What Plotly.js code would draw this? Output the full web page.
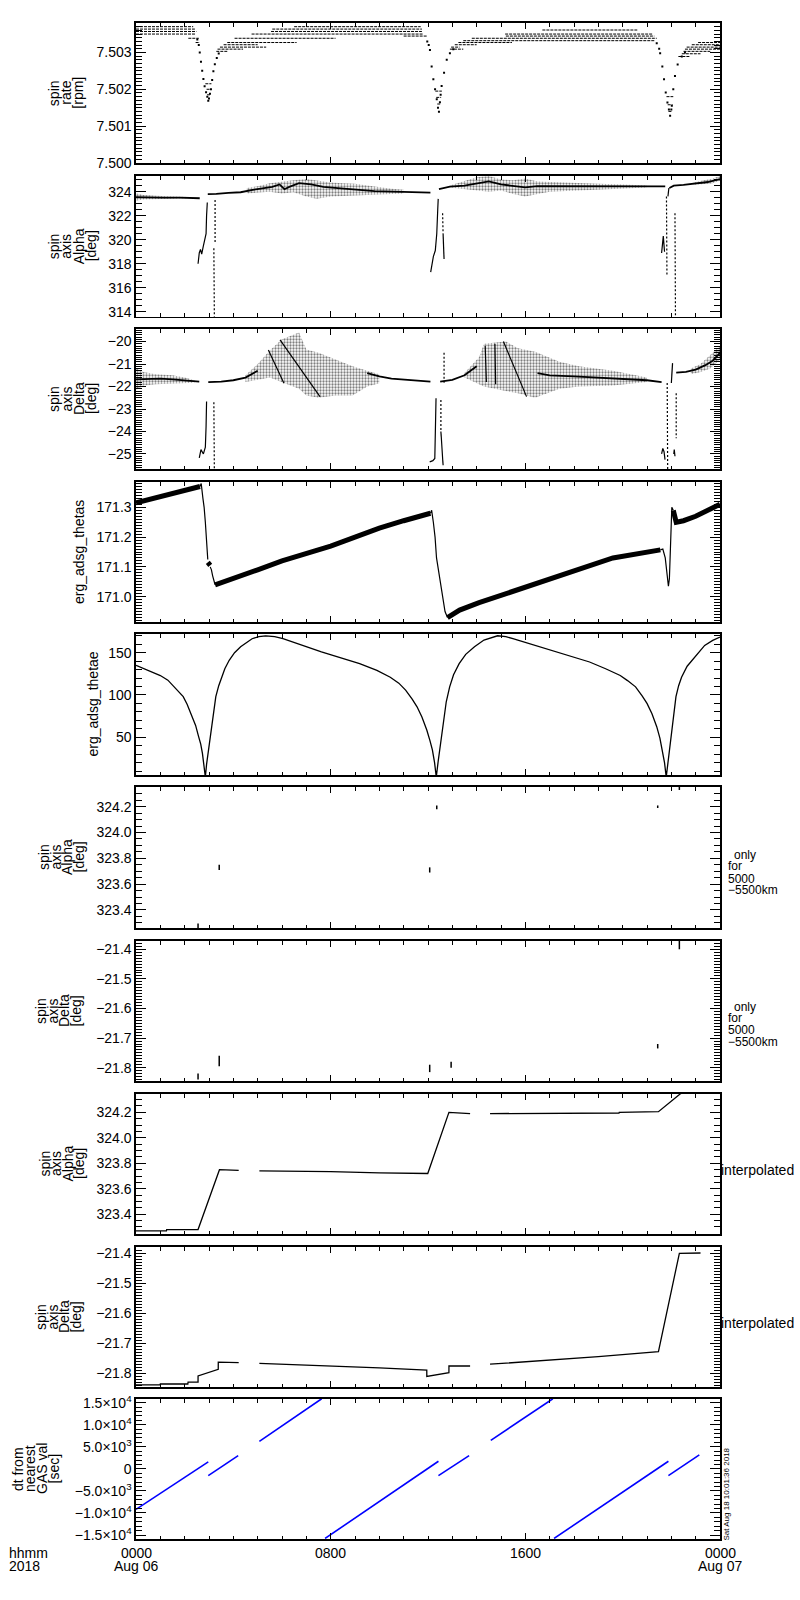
<!DOCTYPE html>
<html><head><meta charset="utf-8">
<script src="https://cdn.plot.ly/plotly-3.0.1.min.js"></script>
<style>body{margin:0;background:#fff}#chart{width:800px;height:1600px}</style>
</head><body><div id="chart"></div>
<script>
// ================= DATA (time in hours from 2018-08-06 00:00) =================
const xTickVals = [0, 8, 16, 24];
const xTickLabels = ['0000', '0800', '1600', '0000'];
const xTickDates = ['Aug 06', '', '', 'Aug 07'];

// Panel 1: spin rate [rpm] — quantized horizontal runs
const rateRunStart = [0,0,0,0,2.15,2.45, 3.3,3.35,3.45,3.6,3.75,4.05,4.75,5.55,5.6,6.5,11.0, 2.9,2.92,2.85,
  12.9,12.95,13.1,13.25,13.45,13.8,15.2,15.17,16.7, 12.38,12.34,12.3,
  22.29,22.43,22.5,22.56,22.63,22.84,23.1, 21.88,21.85,21.8];
const rateRunEnd = [2.35,2.42,2.48,2.45,2.58,2.62, 3.75,4.4,5.35,5.0,6.6,8.2,11.8,11.75,11.75,11.7,11.95, 3.06,3.04,3.1,
  13.45,13.3,14.0,15.45,21.33,21.4,21.3,21.25,20.6, 12.5,12.54,12.57,
  22.77,23.2,23.6,24,24,24,24, 22.02,22.05,22.08];
const rateRunLevel = [7.50370,7.503635,7.50357,7.50350,7.503385,7.50327, 7.50303,7.50309,7.503145,7.50321,7.50327,7.503385,7.50350,7.50357,7.503635,7.50370,7.503445, 7.50200,7.50185,7.50215,
  7.50309,7.503145,7.50321,7.50327,7.50332,7.503385,7.503445,7.50350,7.50361, 7.50160,7.50178,7.50195,
  7.50289,7.502965,7.50303,7.50309,7.503145,7.50321,7.50327, 7.50140,7.50158,7.50180];
const rateDipT = [2.52,2.58,2.62,2.67,2.72,2.77,2.82,2.88,2.93,2.97,3.0,3.04,3.08,3.13,3.18,3.24,3.32,3.4,
  11.97,12.03,12.08,12.15,12.22,12.29,12.36,12.41,12.45,12.49,12.52,12.56,12.66,12.77,12.9,13.04,
  21.4,21.5,21.54,21.63,21.7,21.77,21.84,21.9,21.95,22.0,22.02,22.08,22.15,22.26,22.43,22.56];
const rateDipV = [7.50335,7.5032,7.5030,7.50275,7.5025,7.50228,7.50208,7.50192,7.5018,7.50169,7.50175,7.50188,7.5020,7.50225,7.50249,7.50268,7.50285,7.50297,
  7.5033,7.5032,7.50307,7.50262,7.50227,7.5020,7.50173,7.5015,7.50139,7.50165,7.50185,7.50209,7.50245,7.5028,7.50298,7.50309,
  7.50325,7.5031,7.50298,7.50262,7.50227,7.50191,7.50164,7.50145,7.50128,7.50145,7.50155,7.5020,7.50236,7.50267,7.50289,7.5030];
const rateTicks = [7.500, 7.501, 7.502, 7.503];
const rateTickLabels = ['7.500', '7.501', '7.502', '7.503'];

// Panel 2: spin axis Alpha [deg]
const alphaCoreT = [0,0.6,1.2,1.8,2.4,2.62,null,2.95,3.3,3.8,4.3,4.8,5.2,5.6,5.9,6.1,6.3,6.7,7.2,7.7,8.3,9.0,9.8,10.6,11.4,12.1,null,
  12.45,12.9,13.5,14.0,14.5,15.0,15.5,16.0,16.5,17.5,18.5,19.5,20.5,21.4,21.75,null,21.92,22.1,22.5,23.0,23.5,24];
const alphaCoreV = [323.55,323.5,323.5,323.5,323.48,323.45,null,323.8,323.81,323.9,323.95,324.15,324.3,324.4,324.6,324.2,324.4,324.7,324.6,324.4,324.3,324.2,324.05,324.0,323.95,323.92,null,
  324.2,324.42,324.5,324.7,324.85,324.6,324.5,324.35,324.45,324.45,324.42,324.4,324.4,324.44,324.44,null,324.3,324.5,324.56,324.65,324.8,325.05];
const alphaCloudT = [0,0.3,0.8,1.5,2.1,null,4.55,5.0,5.5,6.0,6.47,7.0,7.42,8.0,8.5,9.0,9.5,10.0,10.5,11.0,null,
  12.9,13.5,14.0,14.5,15.0,15.5,16.0,16.5,17.0,18.0,19.0,20.0,21.0,null,22.9,23.3,23.7,24];
const alphaCloudHi = [323.86,323.72,323.65,323.6,323.55,null,324.3,324.45,324.7,324.85,324.95,325.05,324.9,324.75,324.7,324.65,324.5,324.35,324.25,324.15,null,
  324.5,324.9,325.2,325.3,325.0,324.95,325.1,324.85,324.8,324.7,324.65,324.6,324.5,null,324.75,324.9,325.1,325.3];
const alphaCloudLo = [323.25,323.35,323.4,323.42,323.44,null,323.85,323.9,324.0,323.85,323.95,323.6,323.4,323.6,323.65,323.65,323.7,323.75,323.8,323.85,null,
  324.35,324.2,324.1,324.0,324.1,323.8,323.6,323.8,324.0,324.1,324.2,324.25,324.35,null,324.55,324.6,324.7,324.9];
const alphaPerigeeT = [2.55,2.6,2.65,2.7,2.76,2.88,2.9,2.93,null,12.11,12.22,12.3,12.36,12.4,12.42,null,12.62,12.64,12.66,null,21.6,21.64,21.67,21.72,null,21.86,21.9];
const alphaPerigeeV = [318.0,318.9,319.2,318.8,319.4,320.5,322.0,323.1,null,317.3,318.6,319.1,320.5,322.5,323.4,null,320.5,319.3,318.4,null,318.9,320.25,320.3,319.0,null,323.6,324.3];
const alphaDotT = [3.2,3.22,null,3.25,3.25,null,12.6,12.62,null,21.8,21.82,null,22.15,22.17];
const alphaDotV = [319.3,313.5,null,323.3,319.8,null,322.2,320.5,null,323.6,317.0,null,322.2,313.5];
const alphaTicks = [314, 316, 318, 320, 322, 324];

// Panel 3: spin axis Delta [deg]
const deltaCoreT = [0,0.5,1.0,1.5,2.0,2.6,null,2.97,3.5,4.0,4.5,5.0,null,9.5,10,10.5,11,11.5,12.1,null,
  12.5,13.0,13.5,14.0,null,16.5,17,18,19,20,21,21.6,null,22.2,22.6,23,23.4,23.7,24];
const deltaCoreV = [-21.68,-21.65,-21.65,-21.68,-21.72,-21.78,null,-21.8,-21.78,-21.72,-21.6,-21.3,null,-21.4,-21.55,-21.65,-21.7,-21.75,-21.78,null,
  -21.78,-21.7,-21.5,-21.1,null,-21.4,-21.5,-21.55,-21.6,-21.65,-21.72,-21.8,null,-21.38,-21.35,-21.25,-21.05,-20.85,-20.5];
const deltaCloudT = [0,0.3,0.8,1.5,2.0,2.4,null,4.5,5.0,5.5,6.0,6.7,7.0,7.5,8.2,8.9,9.5,10.0,null,
  13.5,14.1,14.3,15.2,15.7,16.4,17.4,18.2,19.6,21.0,null,22.8,23.2,23.6,24];
const deltaCloudHi = [-21.2,-21.35,-21.45,-21.5,-21.6,-21.72,null,-21.5,-21.0,-20.4,-19.9,-19.6,-20.35,-20.5,-20.8,-21.1,-21.3,-21.45,null,
  -21.4,-20.7,-20.1,-20.0,-20.3,-20.45,-20.9,-21.1,-21.3,-21.6,null,-21.2,-21.0,-20.6,-20.2];
const deltaCloudLo = [-22.15,-21.95,-21.9,-21.85,-21.85,-21.83,null,-21.8,-21.7,-21.6,-21.8,-22.1,-22.4,-22.5,-22.4,-22.4,-22.0,-21.85,null,
  -21.6,-21.9,-22.0,-22.2,-22.3,-22.5,-22.1,-22.0,-21.95,-21.8,null,-21.45,-21.35,-21.2,-20.8];
const deltaStreakT = [5.44,6.08,null,5.92,7.56,null,15.1,16.05,null,14.35,14.4,null,14.75,14.78];
const deltaStreakV = [-20.37,-21.85,null,-19.92,-22.45,null,-20.0,-22.45,null,-20.2,-21.8,null,-20.1,-21.9];
const deltaPerigeeT = [2.6,2.67,2.77,2.85,2.88,2.9,null,12.07,12.2,12.28,12.3,12.33,null,12.53,12.58,12.62,null,21.6,21.65,21.7,21.74,null,22.0,22.03,22.05,null,22.1,22.12,22.15];
const deltaPerigeeV = [-25.18,-24.81,-25.0,-24.7,-23.78,-22.67,null,-25.35,-25.3,-25.2,-23.5,-22.52,null,-24.0,-25.0,-25.5,null,-25.0,-24.75,-24.9,-25.25,null,-21.84,-21.5,-20.96,null,-25.0,-24.8,-25.1];
const deltaDotT = [3.2,3.22,null,12.53,12.53,null,12.66,12.66,null,21.83,21.85,null,22.2,22.2];
const deltaDotV = [-22.7,-25.8,null,-22.6,-24.0,null,-20.5,-21.9,null,-21.84,-25.8,null,-22.3,-24.3];
const deltaTicks = [-25, -24, -23, -22, -21, -20];

// Panel 4: erg_adsg_thetas
const thetasBandT = [0,0.5,1.0,1.5,2.0,2.5,2.63,null,2.95,3.05,null,3.25,4,5,6,7,8,9,10,11,12.1,null,
  12.8,13.3,14.1,15,16,17,18.2,19.6,21.55,null,22.08,22.2,22.5,23.0,23.5,24];
const thetasBandV = [171.315,171.325,171.335,171.345,171.355,171.365,171.37,null,171.115,171.105,null,171.04,171.06,171.09,171.12,171.145,171.17,171.2,171.23,171.255,171.28,null,
  170.93,170.955,170.98,171.005,171.034,171.06,171.095,171.13,171.157,null,171.29,171.25,171.255,171.27,171.29,171.31];
const thetasDropT = [2.63,2.68,2.75,2.8,2.85,2.9,2.95,null,3.05,3.1,3.15,3.25,null,12.1,12.15,12.22,12.29,12.35,12.45,12.5,12.6,12.7,12.8,null,
  21.55,21.65,21.75,21.8,21.85,21.88,21.92,21.95,21.98,22.02,22.08];
const thetasDropV = [171.37,171.38,171.33,171.3,171.25,171.18,171.125,null,171.1,171.09,171.07,171.04,null,171.28,171.29,171.25,171.2,171.13,171.08,171.05,171.0,170.95,170.93,null,
  171.157,171.16,171.13,171.1,171.06,171.035,171.06,171.15,171.25,171.3,171.29];
const thetasTicks = [171.0, 171.1, 171.2, 171.3];
const thetasTickLabels = ['171.0', '171.1', '171.2', '171.3'];

// Panel 5: erg_adsg_thetae
const thetaeT = [0,0.68,1.0,1.31,1.6,1.94,2.1,2.33,2.45,2.57,2.66,2.73,2.8,2.85,2.9,2.96,3.04,3.12,3.2,3.28,3.4,3.52,3.65,3.83,4.05,4.3,4.55,4.77,5.05,5.33,5.7,6.04,7.62,9.19,9.9,10.45,10.8,
  11.08,11.35,11.55,11.75,11.95,12.08,12.18,12.27,12.34,12.42,12.5,12.65,12.75,12.89,13.05,13.28,13.55,13.91,14.3,14.86,15.2,15.49,17.06,18.64,19.3,19.9,20.2,
  20.53,20.8,21.0,21.2,21.4,21.53,21.63,21.72,21.79,21.87,21.95,22.05,22.19,22.3,22.42,22.65,22.9,23.15,23.37,23.7,24];
const thetaeV = [135,127,123,117.5,109,98,89,74,64,51,42,31,18,3,18,31,52,70,85,98,111,121,131,141,150,157,162.5,166.5,169,170,169,166.5,151,137,129,121,114,
  105.7,95,86,74,58.6,46,35,20,3,22,39,74,92,109.6,124,137,148,157,165,170,169,166.5,152.7,139,131,123,117,
  109.6,99,90,78,62.5,49,35,20,3,22,39,65,98,111,121,134,143,152,158.6,164.5,168.4];
const thetaeTicks = [50, 100, 150];

// Panels 6/7: values only for 5000-5500 km (short marks: time, low, high)
const alpha55T = [2.55, 3.42, 12.07, 12.36, 21.44, 22.33];
const alpha55Lo = [323.26, 323.71, 323.69, 324.18, 324.19, 324.33];
const alpha55Hi = [323.295, 323.75, 323.73, 324.21, 324.21, 324.36];
const delta55T = [2.55, 3.42, 12.07, 12.95, 21.44, 22.33];
const delta55Lo = [-21.84, -21.795, -21.815, -21.8, -21.735, -21.4];
const delta55Hi = [-21.82, -21.76, -21.79, -21.78, -21.72, -21.37];
const alphaFineTicks = [323.4, 323.6, 323.8, 324.0, 324.2];
const alphaFineTickLabels = ['323.4', '323.6', '323.8', '324.0', '324.2'];
const deltaFineTicks = [-21.8, -21.7, -21.6, -21.5, -21.4];
const deltaFineTickLabels = ['\u221221.8', '\u221221.7', '\u221221.6', '\u221221.5', '\u221221.4'];

// Panels 8/9: interpolated
const interpAlphaT = [0,1.25,1.26,2.55,3.43,4.22,null,5.07,8.0,10.0,11.99,12.86,13.73,null,14.55,16.9,16.91,19.85,19.86,21.47,22.36,22.6];
const interpAlphaV = [323.27,323.27,323.28,323.28,323.75,323.745,null,323.74,323.735,323.725,323.72,324.2,324.19,null,324.19,324.19,324.195,324.195,324.2,324.205,324.344,324.37];
const interpDeltaT = [0,0.99,1.0,2.13,2.14,2.55,2.551,3.38,3.381,4.22,null,5.07,8,10,11.95,11.951,12.86,12.861,13.73,null,14.55,17,19,21.47,22.33,23.2];
const interpDeltaV = [-21.839,-21.839,-21.836,-21.836,-21.83,-21.83,-21.809,-21.787,-21.763,-21.765,null,-21.767,-21.775,-21.782,-21.79,-21.811,-21.798,-21.776,-21.776,null,-21.77,-21.757,-21.745,-21.728,-21.4,-21.399];

// Panel 10: dt from nearest GAS val [sec] — straight segments
const dtSegT0 = [0, 2.97, 5.07, 7.77, 12.43, 14.58, 17.18, 21.88];
const dtSegT1 = [2.97, 4.2, 7.63, 12.43, 13.69, 17.13, 21.88, 23.15];
const dtSegV0 = [-9200, -1520, 6250, -15770, -1520, 6470, -15770, -1520];
const dtSegV1 = [1580, 3000, 15900, 1720, 3000, 15900, 1720, 3170];
const dtTicks = [-15000, -10000, -5000, 0, 5000, 10000, 15000];
const dtTickLabels = ['\u22121.5\u00d710<sup>4</sup>', '\u22121.0\u00d710<sup>4</sup>', '\u22125.0\u00d710<sup>3</sup>', '0',
  '5.0\u00d710<sup>3</sup>', '1.0\u00d710<sup>4</sup>', '1.5\u00d710<sup>4</sup>'];

// ================= LAYOUT HELPERS =================
const W = 800, H = 1600;
const FONT = 'Liberation Sans, Arial, sans-serif';
const panelTop = [23, 176, 329, 482, 634, 787, 941, 1094, 1247, 1399];
const panelBot = [163.3, 316.7, 469, 622, 775, 928, 1081, 1234, 1387, 1539];
const plotLeft = 136, plotRight = 720;
const px = x => x / W, py = y => 1 - y / H;
const aid = k => (k === 1 ? '' : String(k));

function tr(k, x, y, o) {
  o = o || {};
  const t = {type: 'scatter', mode: o.mode || 'lines', x: x, y: y,
    xaxis: 'x' + aid(k), yaxis: 'y' + aid(k), hoverinfo: 'skip', showlegend: false, connectgaps: false,
    line: {color: o.color || '#000', width: o.width === undefined ? 1 : o.width, dash: o.dash || 'solid'}};
  if (o.marker) t.marker = o.marker;
  if (o.fill) { t.fill = o.fill; t.fillcolor = 'rgba(0,0,0,0)'; t.fillpattern = o.fillpattern; }
  return t;
}
function runsXY(s, e, v) { const x = [], y = []; for (let i = 0; i < s.length; i++) { x.push(s[i], e[i], null); y.push(v[i], v[i], null); } return {x, y}; }
function marksXY(t, lo, hi) { const x = [], y = []; for (let i = 0; i < t.length; i++) { x.push(t[i], t[i], null); y.push(lo[i], hi[i], null); } return {x, y}; }
function cloudXY(T, Hi, Lo) {
  const x = [], y = []; let seg = [];
  const flush = () => { if (seg.length) { seg.forEach(i => { x.push(T[i]); y.push(Hi[i]); }); seg.slice().reverse().forEach(i => { x.push(T[i]); y.push(Lo[i]); }); x.push(null); y.push(null); } seg = []; };
  for (let i = 0; i < T.length; i++) { if (T[i] === null) flush(); else seg.push(i); }
  flush(); return {x, y};
}
const dotPattern = {shape: '.', fgcolor: '#000', bgcolor: 'rgba(0,0,0,0)', size: 3, solidity: 0.45, fillmode: 'overlay'};

const traces = [];
// Panel 1
const rr = runsXY(rateRunStart, rateRunEnd, rateRunLevel);
traces.push(tr(1, rr.x, rr.y, {width: 1, dash: '3px,1px'}));
traces.push(tr(1, rateDipT, rateDipV, {mode: 'markers', marker: {color: '#000', size: 2, symbol: 'square'}}));
// Panel 2
const ac = cloudXY(alphaCloudT, alphaCloudHi, alphaCloudLo);
traces.push(tr(2, ac.x, ac.y, {fill: 'toself', width: 0, fillpattern: dotPattern}));
traces.push(tr(2, alphaCoreT, alphaCoreV, {width: 1.8}));
traces.push(tr(2, alphaPerigeeT, alphaPerigeeV, {width: 1.2}));
traces.push(tr(2, alphaDotT, alphaDotV, {width: 1.2, dash: '2px,2px'}));
// Panel 3
const dc = cloudXY(deltaCloudT, deltaCloudHi, deltaCloudLo);
traces.push(tr(3, dc.x, dc.y, {fill: 'toself', width: 0, fillpattern: dotPattern}));
traces.push(tr(3, deltaCoreT, deltaCoreV, {width: 1.8}));
traces.push(tr(3, deltaStreakT, deltaStreakV, {width: 1.2}));
traces.push(tr(3, deltaPerigeeT, deltaPerigeeV, {width: 1.2}));
traces.push(tr(3, deltaDotT, deltaDotV, {width: 1.2, dash: '2px,2px'}));
// Panel 4
traces.push(tr(4, thetasBandT, thetasBandV, {width: 5}));
traces.push(tr(4, thetasDropT, thetasDropV, {width: 1.2}));
// Panel 5
traces.push(tr(5, thetaeT, thetaeV, {width: 1.3}));
// Panels 6/7
const m6 = marksXY(alpha55T, alpha55Lo, alpha55Hi);
traces.push(tr(6, m6.x, m6.y, {width: 1.5}));
const m7 = marksXY(delta55T, delta55Lo, delta55Hi);
traces.push(tr(7, m7.x, m7.y, {width: 1.5}));
// Panels 8/9
traces.push(tr(8, interpAlphaT, interpAlphaV, {width: 1.3}));
traces.push(tr(9, interpDeltaT, interpDeltaV, {width: 1.3}));
// Panel 10
const dx = [], dy = [];
for (let i = 0; i < dtSegT0.length; i++) { dx.push(dtSegT0[i], dtSegT1[i], null); dy.push(dtSegV0[i], dtSegV1[i], null); }
traces.push(tr(10, dx, dy, {width: 1.6, color: '#0000ff'}));

// ================= AXES =================
const yCfg = [
  {range: [7.49999, 7.5038], tv: rateTicks, tt: rateTickLabels, minor: 0.0001, t0: 7.5},
  {range: [313.6, 325.3], tv: alphaTicks, tt: alphaTicks.map(String), minor: 0.5, t0: 314},
  {range: [-25.67, -19.44], tv: deltaTicks, tt: deltaTicks.map(v => '\u2212' + Math.abs(v)), minor: 0.1, t0: -25},
  {range: [170.915, 171.385], tv: thetasTicks, tt: thetasTickLabels, minor: 0.01, t0: 171},
  {range: [5.4, 172.1], tv: thetaeTicks, tt: thetaeTicks.map(String), minor: 10, t0: 0},
  {range: [323.26, 324.353], tv: alphaFineTicks, tt: alphaFineTickLabels, minor: 0.05, t0: 323.4},
  {range: [-21.845, -21.372], tv: deltaFineTicks, tt: deltaFineTickLabels, minor: 0.01, t0: -21.8},
  {range: [323.245, 324.344], tv: alphaFineTicks, tt: alphaFineTickLabels, minor: 0.05, t0: 323.4},
  {range: [-21.846, -21.379], tv: deltaFineTicks, tt: deltaFineTickLabels, minor: 0.01, t0: -21.8},
  {range: [-15900, 15840], tv: dtTicks, tt: dtTickLabels, minor: 1000, t0: 0}
];

const layout = {
  width: W, height: H, autosize: false, margin: {l: 0, r: 0, t: 0, b: 0},
  paper_bgcolor: '#fff', plot_bgcolor: '#fff', showlegend: false,
  font: {family: FONT, size: 14, color: '#000'}, annotations: []
};
for (let k = 1; k <= 10; k++) {
  const c = yCfg[k - 1];
  layout['xaxis' + aid(k)] = {
    domain: [px(plotLeft), px(plotRight)], range: [0, 24], anchor: 'y' + aid(k),
    tickmode: 'array', tickvals: xTickVals, showticklabels: false,
    ticks: 'inside', ticklen: 6, tickwidth: 1, tickcolor: '#000',
    minor: {tickmode: 'linear', tick0: 0, dtick: 1, ticks: 'inside', ticklen: 3.5, tickwidth: 1, tickcolor: '#000', showgrid: false},
    mirror: 'allticks', showline: true, linecolor: '#000', linewidth: 1.6,
    showgrid: false, zeroline: false, fixedrange: true
  };
  layout['yaxis' + aid(k)] = {
    domain: [py(panelBot[k - 1]), py(panelTop[k - 1])], range: c.range, anchor: 'x' + aid(k),
    tickmode: 'array', tickvals: c.tv, ticktext: c.tt, tickfont: {family: FONT, size: 14, color: '#000'},
    ticks: 'inside', ticklen: 10, tickwidth: 1, tickcolor: '#000',
    minor: {tickmode: 'linear', tick0: c.t0, dtick: c.minor, ticks: 'inside', ticklen: 6, tickwidth: 1, tickcolor: '#000', showgrid: false},
    mirror: 'allticks', showline: true, linecolor: '#000', linewidth: 1.6,
    showgrid: false, zeroline: false, fixedrange: true
  };
}

// ================= TEXT =================
function ann(text, x, y, o) {
  o = o || {};
  layout.annotations.push({text: text, xref: 'paper', yref: 'paper', x: px(x), y: py(y),
    xanchor: o.xa || 'center', yanchor: o.ya || 'middle', showarrow: false, textangle: o.angle || 0,
    font: {family: FONT, size: o.size || 14, color: '#000'}, borderpad: 0});
}
const titleLines = [
  [['spin', 54], ['rate', 66.5], ['[rpm]', 78.5]],
  [['spin', 54], ['axis', 66.5], ['Alpha', 79], ['[deg]', 91]],
  [['spin', 54], ['axis', 66.5], ['Delta', 79], ['[deg]', 91]],
  [['erg_adsg_thetas', 79]],
  [['erg_adsg_thetae', 92]],
  [['spin', 44.5], ['axis', 56], ['Alpha', 67.5], ['[deg]', 79]],
  [['spin', 41], ['axis', 52.5], ['Delta', 64], ['[deg]', 75.5]],
  [['spin', 44.5], ['axis', 56], ['Alpha', 67.5], ['[deg]', 79]],
  [['spin', 41], ['axis', 52.5], ['Delta', 64], ['[deg]', 75.5]],
  [['dt from', 18], ['nearest', 30], ['GAS val', 42], ['[sec]', 53.5]]
];
titleLines.forEach((lines, i) => {
  const mid = (panelTop[i] + panelBot[i]) / 2;
  lines.forEach(([t, x]) => ann(t, x, mid, {angle: -90}));
});
// right-side notes
[0, 1].forEach(i => {
  const ys = i === 0 ? [855, 866.5, 878.5, 890] : [1006.5, 1018, 1030, 1041.5];
  ann('only', 733, ys[0], {xa: 'left', size: 12});
  ann('for', 727, ys[1], {xa: 'left', size: 12});
  ann('5000', 727, ys[2], {xa: 'left', size: 12});
  ann('\u22125500km', 727, ys[3], {xa: 'left', size: 12});
});
ann('interpolated', 720, 1170, {xa: 'left', size: 14});
ann('interpolated', 720, 1323, {xa: 'left', size: 14});
// x tick labels (bottom panel)
xTickVals.forEach((v, i) => {
  const x = plotLeft + (v / 24) * (plotRight - plotLeft);
  ann(xTickLabels[i], x, 1553, {});
  if (xTickDates[i]) ann(xTickDates[i], x, 1566, {});
});
ann('hhmm', 8, 1553, {xa: 'left'});
ann('2018', 8, 1566, {xa: 'left'});
ann('Sat Aug 18 10:01:36 2018', 725.5, 1494, {angle: -90, size: 8});

Plotly.newPlot('chart', traces, layout, {staticPlot: true, displayModeBar: false});
</script>
</body></html>
